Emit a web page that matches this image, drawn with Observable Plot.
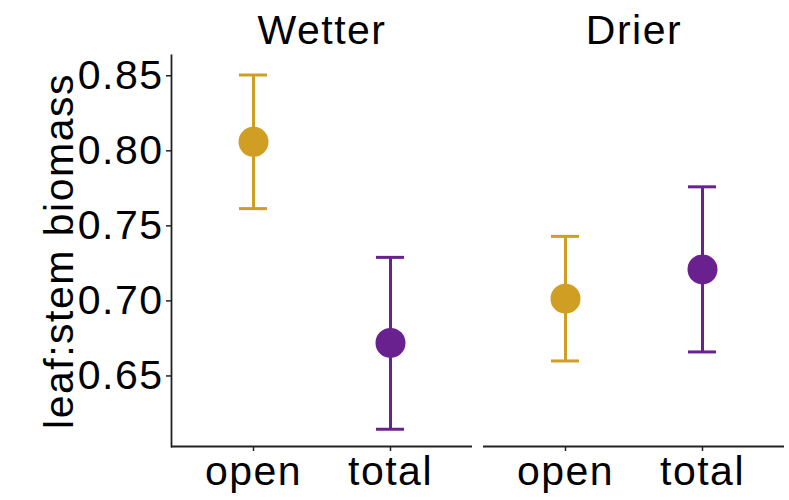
<!DOCTYPE html>
<html>
<head>
<meta charset="utf-8">
<script src="https://cdn.jsdelivr.net/npm/d3@7"></script>
<script src="https://cdn.jsdelivr.net/npm/@observablehq/plot@0.6"></script>
<style>
  html, body { margin: 0; padding: 0; background: #fff; }
  #chart svg { display: block; }
</style>
</head>
<body>
<div id="chart"></div>
<script>
// Data
const sites   = ["Wetter", "Wetter", "Drier", "Drier"];
const canopy  = ["open", "total", "open", "total"];
const means   = [0.806, 0.672, 0.7015, 0.721];
const uppers  = [0.8505, 0.729, 0.743, 0.776];
const lowers  = [0.7615, 0.6145, 0.660, 0.666];

const siteOrder = ["Wetter", "Drier"];
const canopyOrder = ["open", "total"];
const yTicks = [0.65, 0.70, 0.75, 0.80, 0.85];
const yDomain = [0.603, 0.8635];
const colors = ["#D09E22", "#6A2190"];

const data = sites.map((s, i) => ({
  site: s, canopy: canopy[i], mean: means[i], upper: uppers[i], lower: lowers[i]
}));

const font = "Liberation Sans, Arial, Helvetica, sans-serif";
const fs = 41;

const chart = Plot.plot({
  width: 789,
  height: 500,
  marginLeft: 171,
  marginRight: 5,
  marginTop: 55,
  marginBottom: 54,
  style: { fontFamily: font, letterSpacing: "1.5px", color: "#000", background: "#fff" },
  fx: { domain: siteOrder, paddingInner: 0.0353, paddingOuter: 0, axis: null, label: null },
  x: { domain: canopyOrder, paddingInner: 0.7956, paddingOuter: 0.4963, axis: null, label: null },
  y: { domain: yDomain, axis: null },
  color: { domain: canopyOrder, range: colors },
  marks: [
    Plot.axisFx({ anchor: "top", tickSize: 0, tickPadding: 12, fontSize: fs, label: null }),
    Plot.axisX({ tickSize: 5, tickPadding: 4, fontSize: fs, label: null, strokeWidth: 1.5, stroke: "#222" }),
    Plot.axisY({
      ticks: yTicks, tickFormat: d3.format(".2f"), tickSize: 5, tickPadding: 3, fontSize: fs,
      label: "leaf:stem biomass", labelAnchor: "center", labelArrow: "none", labelOffset: 128,
      strokeWidth: 1.5, stroke: "#222"
    }),
    Plot.frame({ anchor: "left", facetAnchor: "left", stroke: "#222", strokeWidth: 1.8 }),
    Plot.ruleY([yDomain[0]], { stroke: "#222", strokeWidth: 1.8 }),
    Plot.ruleX(data, { fx: "site", x: "canopy", y1: "lower", y2: "upper", stroke: "canopy", strokeWidth: 3 }),
    Plot.tickY(data, { fx: "site", x: "canopy", y: "upper", stroke: "canopy", strokeWidth: 3 }),
    Plot.tickY(data, { fx: "site", x: "canopy", y: "lower", stroke: "canopy", strokeWidth: 3 }),
    Plot.dot(data, { fx: "site", x: "canopy", y: "mean", fill: "canopy", r: 15 })
  ]
});

document.getElementById("chart").appendChild(chart);
</script>
</body>
</html>
